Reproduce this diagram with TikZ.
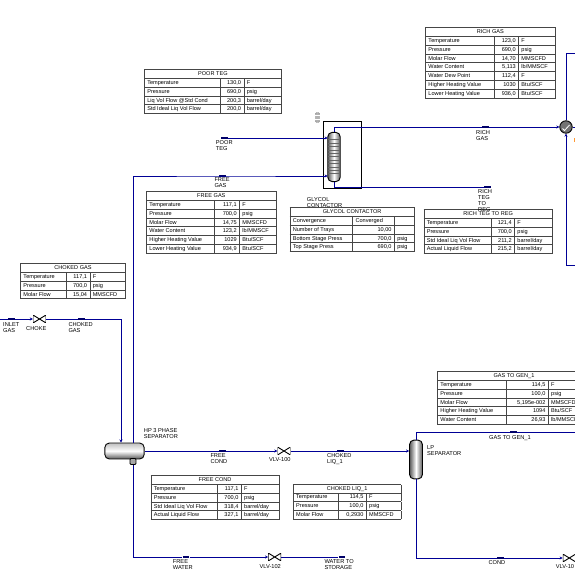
\documentclass[tikz,border=0pt]{standalone}
\usepackage{fontspec}
\usepackage{array}
\usepackage{colortbl}
\setmainfont{Liberation Sans}
\usetikzlibrary{
  arrows.meta,
  calc,
  positioning
}
\definecolor{pipeblue}{RGB}{0,0,150}
\definecolor{rulegrey}{RGB}{70,70,70}
\newcolumntype{L}[1]{>{\raggedright\arraybackslash}p{\dimexpr#1bp-5.8pt\relax}}
\newcolumntype{R}[1]{>{\raggedleft\arraybackslash}p{\dimexpr#1bp-5.8pt\relax}}
\newcommand{\titlerow}[1]{\hline\multicolumn{3}{|c|}{#1}\\\hline}
\newcommand{\tabrow}[3]{#1 & #2 & #3\\\hline}
\newenvironment{streamtab}[3]{\fontsize{5.6}{8.05}\selectfont\arrayrulecolor{rulegrey}\setlength{\arrayrulewidth}{0.8pt}\setlength{\tabcolsep}{2.5pt}\begin{tabular}{|L{#1}|R{#2}|L{#3}|}}{\end{tabular}}
\tikzset{
  pipe/.style={draw=pipeblue,line width=1pt},
  pipeend/.style={pipe,-{Stealth[length=3pt,width=3pt]}},
  flowbar/.style={fill=pipeblue!70!black,inner sep=0pt,minimum width=7pt,minimum height=2pt},
  valve/.style={inner sep=0pt,minimum width=13pt,minimum height=8pt,
    path picture={\draw[black,line width=0.9pt,fill=white]
      (path picture bounding box.south west) -- (path picture bounding box.north east)
      -- (path picture bounding box.south east) -- (path picture bounding box.north west) -- cycle;}},
  label/.style={align=left,anchor=west,inner sep=0pt,font=\fontsize{5.7}{6}\selectfont},
  streamtable/.style={anchor=north west,inner sep=0pt},
  hvessel/.style={draw=black,line width=0.9pt,rounded corners=4.5pt,inner sep=0pt,
    top color=black!25,bottom color=black!65,middle color=white,minimum width=39.5pt,minimum height=16pt},
  vvessel/.style={draw=black,line width=0.9pt,rounded corners=4.5pt,inner sep=0pt,
    left color=black!65,right color=black!65,middle color=white,minimum width=13pt,minimum height=39pt}
}
\begin{document}
\begin{tikzpicture}[x=1bp,y=-1bp]
  \useasboundingbox (0,0) rectangle (575,571);
  \clip (0,0) rectangle (575,571);

  % tables
  \node[streamtable] (tabPoorTeg) at (143.8,69) {\begin{streamtab}{75.5}{24}{37.5}
    \titlerow{POOR TEG}
    \tabrow{Temperature}{130,0}{F}
    \tabrow{Pressure}{690,0}{psig}
    \tabrow{Liq Vol Flow @Std Cond}{200,3}{barrel/day}
    \tabrow{Std Ideal Liq Vol Flow}{200,0}{barrel/day}
  \end{streamtab}};
  \node[streamtable] (tabRichGas) at (425,27) {\begin{streamtab}{69}{24}{36.5}
    \titlerow{RICH GAS}
    \tabrow{Temperature}{123,0}{F}
    \tabrow{Pressure}{690,0}{psig}
    \tabrow{Molar Flow}{14,70}{MMSCFD}
    \tabrow{Water Content}{5,113}{lb/MMSCF}
    \tabrow{Water Dew Point}{112,4}{F}
    \tabrow{Higher Heating Value}{1030}{Btu/SCF}
    \tabrow{Lower Heating Value}{936,0}{Btu/SCF}
  \end{streamtab}};
  \node[streamtable] (tabFreeGas) at (146,191) {\begin{streamtab}{67.5}{25.5}{36.5}
    \titlerow{FREE GAS}
    \tabrow{Temperature}{117,1}{F}
    \tabrow{Pressure}{700,0}{psig}
    \tabrow{Molar Flow}{14,75}{MMSCFD}
    \tabrow{Water Content}{123,2}{lb/MMSCF}
    \tabrow{Higher Heating Value}{1029}{Btu/SCF}
    \tabrow{Lower Heating Value}{934,9}{Btu/SCF}
  \end{streamtab}};
  \node[streamtable] (tabContactor) at (289.3,207) {\begin{streamtab}{62.8}{41.7}{20}
    \titlerow{GLYCOL CONTACTOR}
    Convergence & \multicolumn{1}{l|}{Converged} & \\\hline
    \tabrow{Number of Trays}{10,00}{}
    \tabrow{Bottom Stage Press}{700,0}{psig}
    \tabrow{Top Stage Press}{690,0}{psig}
  \end{streamtab}};
  \node[streamtable] (tabRichTeg) at (423.3,209) {\begin{streamtab}{67}{23.7}{37.7}
    \titlerow{RICH TEG TO REG}
    \tabrow{Temperature}{121,4}{F}
    \tabrow{Pressure}{700,0}{psig}
    \tabrow{Std Ideal Liq Vol Flow}{211,2}{barrel/day}
    \tabrow{Actual Liquid Flow}{215,2}{barrel/day}
  \end{streamtab}};
  \node[streamtable] (tabChokedGas) at (20,263) {\begin{streamtab}{45.7}{23.6}{35.4}
    \titlerow{CHOKED GAS}
    \tabrow{Temperature}{117,1}{F}
    \tabrow{Pressure}{700,0}{psig}
    \tabrow{Molar Flow}{15,04}{MMSCFD}
  \end{streamtab}};
  \node[streamtable] (tabFreeCond) at (150.3,475) {\begin{streamtab}{66.4}{24}{38}
    \titlerow{FREE COND}
    \tabrow{Temperature}{117,1}{F}
    \tabrow{Pressure}{700,0}{psig}
    \tabrow{Std Ideal Liq Vol Flow}{318,4}{barrel/day}
    \tabrow{Actual Liquid Flow}{327,1}{barrel/day}
  \end{streamtab}};
  \node[streamtable] (tabChokedLiq) at (292.7,483.5) {\begin{streamtab}{45.3}{27.7}{34.6}
    \titlerow{CHOKED LIQ\_1}
    \tabrow{Temperature}{114,5}{F}
    \tabrow{Pressure}{100,0}{psig}
    \tabrow{Molar Flow}{0,2930}{MMSCFD}
  \end{streamtab}};
  \node[streamtable] (tabGasGen) at (437,371) {\begin{streamtab}{69}{41.7}{42}
    \titlerow{GAS TO GEN\_1}
    \tabrow{Temperature}{114,5}{F}
    \tabrow{Pressure}{100,0}{psig}
    \tabrow{Molar Flow}{5,195e-002}{MMSCFD}
    \tabrow{Higher Heating Value}{1094}{Btu/SCF}
    \tabrow{Water Content}{26,93}{lb/MMSCF}
  \end{streamtab}};

  % equipment
  \draw[line width=0.8pt] (323.3,121.3) rectangle (361.7,188.7);
  \node[vvessel,minimum width=12.5pt,minimum height=49.5pt] (contactor) at (334,157) {};
  \foreach \i in {0,...,10}
    \draw[black!60,line width=0.4pt] (328,{139.5+\i*3.4}) -- (340,{139.5+\i*3.4});
  \node[draw=black!45,fill=black!30,rounded corners=1.5pt,inner sep=0pt,minimum width=4.5pt,minimum height=10pt] (tagContactor) at (317.5,117.5) {};
  \draw[white,line width=0.4pt] (315.3,115.5) -- (319.7,115.5) (315.3,119.5) -- (319.7,119.5);
  \node[hvessel] (hpSep) at (124.5,451) {};
  \node[draw=black,line width=0.8pt,fill=black!35,inner sep=0pt,minimum width=6pt,minimum height=6pt,rounded corners=1pt] (hpBoot) at (133,461.5) {};
  \node[vvessel] (lpSep) at (416,459.5) {};
  \node[circle,draw=black,line width=0.9pt,fill=black!55,inner sep=0pt,minimum size=12.5pt] (cooler) at (566,127) {};
  \draw[white,line width=0.8pt] (562.5,128.5) -- (564.5,130.5) -- (569.5,125);
  \node[valve] (vlvChoke) at (39.5,319) {};
  \node[valve] (vlvHundred) at (284,451) {};
  \node[valve] (vlvOneTwo) at (274.7,557) {};
  \node[valve] (vlvOneOne) at (569.3,558) {};

  % streams
  \node[flowbar] (barPoorTeg) at (224.5,138) {};
  \node[flowbar] (barFreeGas) at (222.5,176) {};
  \node[flowbar] (barRichGas) at (485.5,127) {};
  \node[flowbar] (barRichTeg) at (487.5,187) {};
  \node[flowbar] (barInlet) at (11.5,319) {};
  \node[flowbar] (barChokedGas) at (81.5,319) {};
  \node[flowbar] (barFreeCond) at (222.5,451) {};
  \node[flowbar] (barChokedLiq) at (340.5,451) {};
  \node[flowbar] (barFreeWater) at (186,557) {};
  \node[flowbar] (barStorage) at (342,557) {};
  \node[flowbar] (barGasGen) at (513.5,432) {};
  \node[flowbar] (barCond) at (500.5,558) {};

  \coordinate (leftIn) at (0,319);
  \coordinate (chokedDown) at (121,319);
  \coordinate (freeGasUp) at (133,176);
  \coordinate (topCorner) at (334,127);
  \coordinate (botCorner) at (334,187);
  \coordinate (richOut) at (575,127);
  \coordinate (coolerTop) at (566,54);
  \coordinate (coolerTopEnd) at (575,54);
  \coordinate (coolerBot) at (566,265);
  \coordinate (coolerBotEnd) at (575,265);
  \coordinate (waterCorner) at (133,557);
  \coordinate (lpTop) at (416,432);
  \coordinate (lpTopEnd) at (575,432);
  \coordinate (lpBot) at (416,558);

  \draw[pipeend] (barPoorTeg.east) -- (327.6,138);
  \draw[pipeend] (133,442.5) -- (freeGasUp) -- (barFreeGas.west) -- (barFreeGas.east) -- (327.6,176);
  \draw[pipe] (contactor.north -| topCorner) -- (topCorner) -- (barRichGas.west);
  \draw[pipeend] (barRichGas.east) -- (cooler.west);
  \draw[pipe] (contactor.south -| botCorner) -- (botCorner) -- (barRichTeg.west);
  \draw[pipe] (cooler.east) -- (richOut);
  \draw[pipe] (cooler.north -| coolerTop) -- (coolerTop) -- (coolerTopEnd);
  \draw[pipeend] (coolerBotEnd) -- (coolerBot) -- (cooler.south -| coolerBot);
  \draw[pipe] (leftIn) -- (barInlet.west);
  \draw[pipeend] (barInlet.east) -- (vlvChoke.west);
  \draw[pipe] (vlvChoke.east) -- (barChokedGas.west);
  \draw[pipeend] (barChokedGas.east) -- (chokedDown) -- (121,442.5);
  \draw[pipe] (hpSep.east) -- (barFreeCond.west);
  \draw[pipeend] (barFreeCond.east) -- (vlvHundred.west);
  \draw[pipe] (vlvHundred.east) -- (barChokedLiq.west);
  \draw[pipeend] (barChokedLiq.east) -- (lpSep.west |- barChokedLiq);
  \draw[pipe] (hpBoot.south) -- (waterCorner) -- (barFreeWater.west);
  \draw[pipeend] (barFreeWater.east) -- (vlvOneTwo.west);
  \draw[pipe] (vlvOneTwo.east) -- (barStorage.west);
  \draw[pipe] (lpSep.north) -- (lpTop) -- (barGasGen.west);
  \draw[pipe] (barGasGen.east) -- (lpTopEnd);
  \draw[pipe] (lpSep.south) -- (lpBot) -- (barCond.west);
  \draw[pipeend] (barCond.east) -- (vlvOneOne.west);
  \draw[pipe] (vlvOneOne.east) -- (575,558);
  \node[fill=orange!80,inner sep=0pt,minimum width=1.2pt,minimum height=5pt] (coolerName) at (574.4,140) {};

  % labels
  \node[label] (lblPoorTeg) at (215.7,145.5) {POOR\\TEG};
  \node[label] (lblFreeGas) at (214.3,183) {FREE\\GAS};
  \node[label] (lblContactor) at (306.7,202.5) {GLYCOL\\CONTACTOR};
  \node[label] (lblRichGas) at (476,135.5) {RICH\\GAS};
  \node[label] (lblRichTeg) at (478,200.5) {RICH\\TEG\\TO\\REG};
  \node[label] (lblInlet) at (3,327.5) {INLET\\GAS};
  \node[label] (lblChoke) at (26,329) {CHOKE};
  \node[label] (lblChokedGas) at (68.3,327.5) {CHOKED\\GAS};
  \node[label] (lblHpSep) at (143.7,433.5) {HP 3 PHASE\\SEPARATOR};
  \node[label] (lblFreeCond) at (210.3,458.7) {FREE\\COND};
  \node[label] (lblVlvHundred) at (269,459.7) {VLV-100};
  \node[label] (lblChokedLiq) at (327,459) {CHOKED\\LIQ\_1};
  \node[label] (lblFreeWater) at (172.7,565) {FREE\\WATER};
  \node[label] (lblVlvOneTwo) at (259.3,566.7) {VLV-102};
  \node[label] (lblStorage) at (324.3,565) {WATER TO\\STORAGE};
  \node[label] (lblLpSep) at (427,451) {LP\\SEPARATOR};
  \node[label] (lblGasGen) at (489,437.7) {GAS TO GEN\_1};
  \node[label] (lblCond) at (488.3,562.7) {COND};
  \node[label] (lblVlvOneOne) at (555.7,566.7) {VLV-10};
\end{tikzpicture}
\end{document}
